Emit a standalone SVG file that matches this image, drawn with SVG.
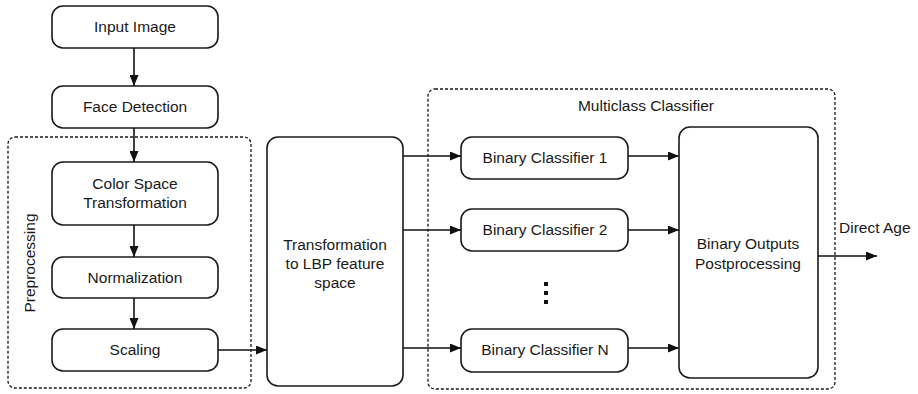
<svg xmlns="http://www.w3.org/2000/svg" width="918" height="394" viewBox="0 0 918 394">
  <defs>
    <marker id="arrow" markerWidth="11" markerHeight="9" refX="11" refY="4.5" orient="auto" markerUnits="userSpaceOnUse">
      <path d="M0,0 L11,4.5 L0,9 Z" fill="#111111"/>
    </marker>
    <style>
      .box { fill: #ffffff; stroke: #1a1a1a; stroke-width: 1.6; }
      .group { fill: none; stroke: #1a1a1a; stroke-width: 1.3; stroke-dasharray: 3 2; }
      .edge { fill: none; stroke: #111111; stroke-width: 1.6; marker-end: url(#arrow); }
      .label { font-family: "Liberation Sans", Arial, sans-serif; font-size: 15.5px; fill: #1a1a1a; text-anchor: middle; }
      .dot { fill: #111111; }
    </style>
  </defs>
  <rect width="918" height="394" fill="#ffffff"/>

  <!-- container groups -->
  <g id="preprocessing">
    <rect class="group" x="8" y="137" width="243" height="251" rx="7"/>
    <text class="label" transform="translate(35,263) rotate(-90)">Preprocessing</text>
  </g>
  <g id="multiclass-classifier">
    <rect class="group" x="428" y="89" width="407" height="300" rx="7"/>
    <text class="label" x="646" y="111">Multiclass Classifier</text>
  </g>

  <!-- connectors -->
  <g id="connectors">
    <line class="edge" x1="134" y1="48" x2="134" y2="86"/>
    <line class="edge" x1="134" y1="128" x2="134" y2="162"/>
    <line class="edge" x1="134" y1="225" x2="134" y2="257"/>
    <line class="edge" x1="134" y1="298" x2="134" y2="329"/>
    <line class="edge" x1="218" y1="350" x2="267" y2="350"/>
    <line class="edge" x1="403" y1="156" x2="461" y2="156"/>
    <line class="edge" x1="403" y1="230" x2="461" y2="230"/>
    <line class="edge" x1="403" y1="348" x2="461" y2="348"/>
    <line class="edge" x1="628" y1="156" x2="679" y2="156"/>
    <line class="edge" x1="628" y1="230" x2="679" y2="230"/>
    <line class="edge" x1="628" y1="348" x2="679" y2="348"/>
    <line class="edge" x1="818" y1="256" x2="877" y2="256"/>
  </g>

  <!-- nodes -->
  <g id="input-image">
    <rect class="box" x="52" y="6" width="166" height="42" rx="11"/>
    <text class="label" x="135" y="32">Input Image</text>
  </g>
  <g id="face-detection">
    <rect class="box" x="52" y="86" width="166" height="42" rx="11"/>
    <text class="label" x="135" y="112">Face Detection</text>
  </g>
  <g id="color-space">
    <rect class="box" x="52" y="162" width="166" height="63" rx="11"/>
    <text class="label" x="135" y="189">Color Space</text>
    <text class="label" x="135" y="208">Transformation</text>
  </g>
  <g id="normalization">
    <rect class="box" x="52" y="257" width="166" height="41" rx="11"/>
    <text class="label" x="135" y="283">Normalization</text>
  </g>
  <g id="scaling">
    <rect class="box" x="52" y="329" width="166" height="42" rx="11"/>
    <text class="label" x="135" y="355">Scaling</text>
  </g>
  <g id="lbp-transformation">
    <rect class="box" x="267" y="137" width="136" height="249" rx="11"/>
    <text class="label" x="335" y="250">Transformation</text>
    <text class="label" x="335" y="269">to LBP feature</text>
    <text class="label" x="335" y="288">space</text>
  </g>
  <g id="binary-classifier-1">
    <rect class="box" x="461" y="137" width="167" height="42" rx="11"/>
    <text class="label" x="545" y="163">Binary Classifier 1</text>
  </g>
  <g id="binary-classifier-2">
    <rect class="box" x="461" y="209" width="167" height="42" rx="11"/>
    <text class="label" x="545" y="235">Binary Classifier 2</text>
  </g>
  <g id="ellipsis">
    <rect class="dot" x="544" y="282" width="4" height="4"/>
    <rect class="dot" x="544" y="291" width="4" height="4"/>
    <rect class="dot" x="544" y="300" width="4" height="4"/>
  </g>
  <g id="binary-classifier-n">
    <rect class="box" x="461" y="329" width="167" height="43" rx="11"/>
    <text class="label" x="545" y="355">Binary Classifier N</text>
  </g>
  <g id="postprocessing">
    <rect class="box" x="679" y="127" width="139" height="251" rx="11"/>
    <text class="label" x="748" y="249">Binary Outputs</text>
    <text class="label" x="748" y="269">Postprocessing</text>
  </g>
  <g id="direct-age">
    <text class="label" x="839" y="233" style="text-anchor:start">Direct Age</text>
  </g>
</svg>
